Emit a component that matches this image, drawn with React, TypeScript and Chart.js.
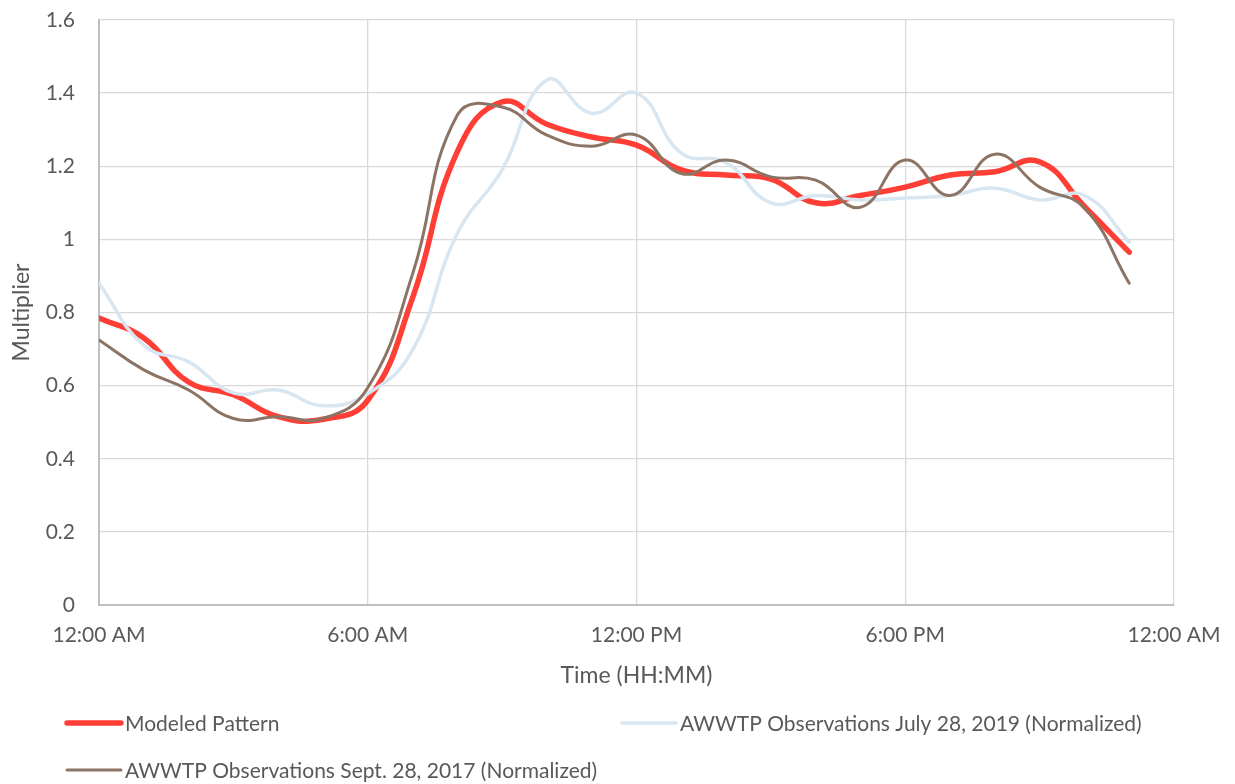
import React, { useEffect, useRef } from "react";
import { Chart, registerables } from "chart.js";

Chart.register(...registerables);

// Hour of day for each sample (0 = midnight)
const hours = [0, 1, 2, 3, 4, 5, 6, 7, 8, 9, 10, 11, 12, 13, 14, 15, 16, 17, 18, 19, 20, 21, 22, 23];

const modeledPattern = [
  0.785, 0.73, 0.61, 0.575, 0.515, 0.508, 0.56, 0.84, 1.24, 1.376, 1.315, 1.28,
  1.258, 1.19, 1.176, 1.165, 1.1, 1.12, 1.143, 1.176, 1.185, 1.212, 1.09, 0.965,
];

const july2019 = [
  0.88, 0.71, 0.665, 0.58, 0.588, 0.545, 0.578, 0.697, 1.017, 1.19, 1.436, 1.345,
  1.4, 1.236, 1.21, 1.1, 1.12, 1.108, 1.113, 1.12, 1.14, 1.108, 1.12, 0.993,
];

const sept2017 = [
  0.725, 0.643, 0.588, 0.51, 0.515, 0.51, 0.594, 0.905, 1.34, 1.362, 1.285, 1.255,
  1.285, 1.18, 1.217, 1.171, 1.162, 1.088, 1.217, 1.12, 1.233, 1.143, 1.086, 0.88,
];

const seriesNames = [
  "Modeled Pattern",
  "AWWTP Observations July 28, 2019 (Normalized)",
  "AWWTP Observations Sept. 28, 2017 (Normalized)",
];

// Time-of-day labels for the x ticks at 0, 6, 12, 18 and 24 hours
const timeTicks = [0, 6, 12, 18, 24];
const timeLabels = ["12:00 AM", "6:00 AM", "12:00 PM", "6:00 PM", "12:00 AM"];

const FONT = "Lato, 'Open Sans', sans-serif";
const TEXT = "#595959";

const toPoints = (vals: number[]) => hours.map((h, i) => ({ x: h, y: vals[i] }));

// Legend laid out in two columns underneath the plot
const bottomLegend = {
  id: "bottomLegend",
  afterDraw(chart: any) {
    const ctx = chart.ctx as CanvasRenderingContext2D;
    const slots = [
      { x: 65, y: 723 },
      { x: 620, y: 723 },
      { x: 65, y: 770 },
    ];
    chart.data.datasets.forEach((ds: any, i: number) => {
      const s = slots[i];
      ctx.save();
      ctx.strokeStyle = ds.borderColor;
      ctx.lineWidth = ds.borderWidth;
      ctx.lineCap = "round";
      ctx.beginPath();
      ctx.moveTo(s.x + 2, s.y);
      ctx.lineTo(s.x + 56, s.y);
      ctx.stroke();
      ctx.fillStyle = TEXT;
      ctx.font = `21px ${FONT}`;
      ctx.textBaseline = "middle";
      ctx.textAlign = "left";
      ctx.fillText(ds.label, s.x + 60, s.y + 1);
      ctx.restore();
    });
  },
};

export default function App() {
  const canvasRef = useRef<HTMLCanvasElement | null>(null);

  useEffect(() => {
    document.body.style.margin = "0";
    const canvas = canvasRef.current;
    if (!canvas) return;
    const chart = new Chart(canvas, {
      type: "line",
      data: {
        datasets: [
          {
            label: seriesNames[0],
            data: toPoints(modeledPattern),
            borderColor: "#FF3F36",
            borderWidth: 5.5,
            order: 3,
          },
          {
            label: seriesNames[1],
            data: toPoints(july2019),
            borderColor: "#D7E6F0",
            borderWidth: 3.5,
            order: 2,
          },
          {
            label: seriesNames[2],
            data: toPoints(sept2017),
            borderColor: "#8B7464",
            borderWidth: 3,
            order: 1,
          },
        ],
      },
      options: {
        responsive: false,
        animation: false,
        layout: { padding: { top: 20, right: 61, bottom: 79, left: 0 } },
        elements: {
          point: { radius: 0, hoverRadius: 0 },
          line: { tension: 0.45, fill: false, borderCapStyle: "round", borderJoinStyle: "round" },
        },
        plugins: {
          legend: { display: false },
          tooltip: { enabled: false },
        },
        scales: {
          x: {
            type: "linear",
            min: 0,
            max: 24,
            afterFit: (scale: any) => {
              scale.height = 100;
              scale.paddingLeft = 0;
              scale.paddingRight = 0;
            },
            afterBuildTicks: (scale: any) => {
              scale.ticks = timeTicks.map((v) => ({ value: v }));
            },
            ticks: {
              autoSkip: false,
              maxRotation: 0,
              padding: 18,
              color: TEXT,
              font: { family: FONT, size: 21 },
              callback: (v: any) => {
                const idx = timeTicks.indexOf(Number(v));
                return idx >= 0 ? timeLabels[idx] : "";
              },
            },
            grid: { color: "#D9D9D9", lineWidth: 1.3, drawTicks: false },
            border: { color: "#BFBFBF", width: 2 },
            title: {
              display: true,
              text: "Time (HH:MM)",
              color: TEXT,
              font: { family: FONT, size: 23 },
              padding: { top: 0, bottom: 16 },
            },
          },
          y: {
            min: 0,
            max: 1.6,
            afterFit: (scale: any) => {
              scale.width = 99;
              scale.paddingTop = 0;
              scale.paddingBottom = 0;
            },
            ticks: {
              stepSize: 0.2,
              padding: 24,
              color: TEXT,
              font: { family: FONT, size: 21 },
              callback: (v: any) => String(Math.round(Number(v) * 10) / 10),
            },
            grid: { color: "#D9D9D9", lineWidth: 1.3, drawTicks: false },
            border: { color: "#BFBFBF", width: 2 },
            title: {
              display: true,
              text: "Multiplier",
              color: TEXT,
              font: { family: FONT, size: 23 },
              padding: { top: 8, bottom: 0 },
            },
          },
        },
      },
      plugins: [bottomLegend],
    });
    return () => chart.destroy();
  }, []);

  return (
    <div style={{ position: "absolute", left: 0, top: 0, width: 1235, height: 784 }}>
      <canvas ref={canvasRef} width={1235} height={784} />
    </div>
  );
}
